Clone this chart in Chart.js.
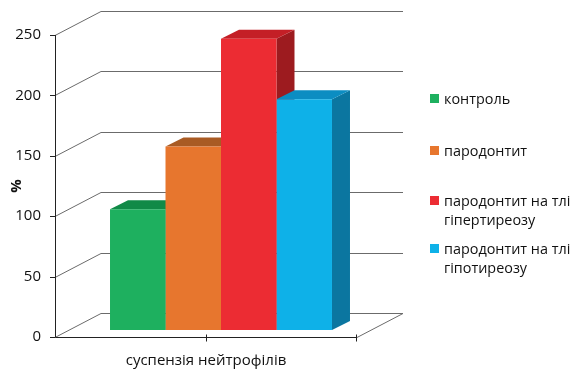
<!DOCTYPE html>
<html>
<head>
<meta charset="utf-8">
<script src="https://cdn.jsdelivr.net/npm/chart.js@4/dist/chart.umd.min.js"></script>
<style>
  html, body { margin: 0; padding: 0; background: #fff; }
  #wrap { position: relative; width: 573px; height: 369px; overflow: hidden; }
  #chart { position: absolute; left: 0; top: 0; }
  .legend { position: absolute; left: 430px; font-family: "Open Sans", sans-serif; font-size: 14.4px; color: #111; line-height: 19px; }
  .legend .sw { position: absolute; left: 0; top: 5px; width: 9px; height: 9px; }
  .legend .tx { position: absolute; left: 14px; top: 0; white-space: nowrap; }
</style>
</head>
<body>
<div id="wrap">
  <canvas id="chart" width="573" height="369"></canvas>
</div>
<script>
// Categories, series and axis ticks
const categories = ["суспензія нейтрофілів"];
const seriesNames = [
  ["контроль"],
  ["пародонтит"],
  ["пародонтит на тлі", "гіпертиреозу"],
  ["пародонтит на тлі", "гіпотиреозу"]
];
const controlValues = [100];
const periodontitisValues = [152];
const hyperthyroidValues = [241];
const hypothyroidValues = [191];
const yTicks = [0, 50, 100, 150, 200, 250];

// Face colours: front, top, side
const frontColors = ["#1eb05f", "#e7762e", "#ec2c33", "#0eb1e8"];
const topColors   = ["#118a47", "#a95b24", "#c41f26", "#0c8dc2"];
const sideColors  = ["#0e7a3e", "#9a4f1d", "#9d1b1f", "#0b76a0"];

// Legend rows (first-line top offsets)
const legendTops = [89, 141, 191, 239];

const wrap = document.getElementById('wrap');
seriesNames.forEach((lines, i) => {
  const d = document.createElement('div');
  d.className = 'legend';
  d.style.top = legendTops[i] + 'px';
  const sw = document.createElement('div');
  sw.className = 'sw';
  sw.style.background = frontColors[i];
  const tx = document.createElement('div');
  tx.className = 'tx';
  tx.innerHTML = lines.join('<br>');
  d.appendChild(sw);
  d.appendChild(tx);
  wrap.appendChild(d);
});

// Depth offsets for the bars' plane and the back wall
const BAR_DX = 15, BAR_DY = -7;
const WALL_DX = 46, WALL_DY = -24;
const BAR_DEPTH_X = 18, BAR_DEPTH_Y = -9;

const frame3d = {
  id: 'frame3d',
  beforeDatasetsDraw(chart) {
    const ctx = chart.ctx;
    const xs = chart.scales.x, ys = chart.scales.y;
    const left = xs.left, right = xs.right;
    const y0 = ys.getPixelForValue(0);
    ctx.save();
    ctx.lineWidth = 1;
    // back wall grid and diagonals
    yTicks.forEach(v => {
      const y = Math.round(ys.getPixelForValue(v)) + 0.5;
      ctx.strokeStyle = '#6b6b6b';
      ctx.beginPath();
      ctx.moveTo(left, y);
      ctx.lineTo(left + WALL_DX, y + WALL_DY);
      ctx.lineTo(right + WALL_DX, y + WALL_DY);
      ctx.stroke();
      // tick mark
      ctx.strokeStyle = '#222';
      ctx.beginPath();
      ctx.moveTo(left - 5, y);
      ctx.lineTo(left, y);
      ctx.stroke();
    });
    const yb = Math.round(y0) + 0.5;
    // floor right diagonal
    ctx.strokeStyle = '#6b6b6b';
    ctx.beginPath();
    ctx.moveTo(right, yb);
    ctx.lineTo(right + WALL_DX, yb + WALL_DY);
    ctx.stroke();
    // front axes
    ctx.strokeStyle = '#222';
    ctx.beginPath();
    ctx.moveTo(Math.round(left) + 0.5, Math.round(ys.getPixelForValue(250)));
    ctx.lineTo(Math.round(left) + 0.5, yb);
    ctx.lineTo(right, yb);
    ctx.stroke();
    // category ticks
    const xc = Math.round(xs.getPixelForValue(0)) + 0.5;
    [xc, Math.round(right) - 0.5].forEach(x => {
      ctx.beginPath();
      ctx.moveTo(x, yb - 3);
      ctx.lineTo(x, yb + 4);
      ctx.stroke();
    });
    ctx.restore();

    // bars' plane: sides and tops, then fronts by Chart.js
    ctx.save();
    ctx.translate(BAR_DX, BAR_DY);
    chart.data.datasets.forEach((ds, i) => {
      const meta = chart.getDatasetMeta(i);
      meta.data.forEach(bar => {
        const p = bar.getProps(['x', 'y', 'base', 'width'], true);
        const l = p.x - p.width / 2, r = p.x + p.width / 2;
        // side
        ctx.fillStyle = sideColors[i];
        ctx.beginPath();
        ctx.moveTo(r, p.y);
        ctx.lineTo(r + BAR_DEPTH_X, p.y + BAR_DEPTH_Y);
        ctx.lineTo(r + BAR_DEPTH_X, p.base + BAR_DEPTH_Y);
        ctx.lineTo(r, p.base);
        ctx.closePath();
        ctx.fill();
        // top
        ctx.fillStyle = topColors[i];
        ctx.beginPath();
        ctx.moveTo(l, p.y);
        ctx.lineTo(l + BAR_DEPTH_X, p.y + BAR_DEPTH_Y);
        ctx.lineTo(r + BAR_DEPTH_X, p.y + BAR_DEPTH_Y);
        ctx.lineTo(r, p.y);
        ctx.closePath();
        ctx.fill();
      });
    });
  },
  afterDatasetsDraw(chart) {
    chart.ctx.restore();
  }
};

new Chart(document.getElementById('chart'), {
  type: 'bar',
  data: {
    labels: categories,
    datasets: [
      { label: seriesNames[0].join(' '), data: controlValues, backgroundColor: frontColors[0] },
      { label: seriesNames[1].join(' '), data: periodontitisValues, backgroundColor: frontColors[1] },
      { label: seriesNames[2].join(' '), data: hyperthyroidValues, backgroundColor: frontColors[2] },
      { label: seriesNames[3].join(' '), data: hypothyroidValues, backgroundColor: frontColors[3] }
    ]
  },
  options: {
    responsive: false,
    animation: false,
    events: [],
    categoryPercentage: 0.735,
    barPercentage: 1,
    clip: false,
    layout: { padding: { top: 35, right: 216, bottom: 0, left: 0 } },
    plugins: { legend: { display: false }, tooltip: { enabled: false } },
    scales: {
      x: {
        grid: { display: false, drawTicks: false },
        border: { display: false },
        ticks: { color: '#111', padding: 15, font: { family: 'Open Sans', size: 15 } },
        afterFit(s) { s.height = 32; }
      },
      y: {
        min: 0, max: 250,
        afterBuildTicks(s) { s.ticks = yTicks.map(v => ({ value: v })); },
        grid: { display: false, drawTicks: false },
        border: { display: false },
        ticks: { color: '#111', padding: 14, font: { family: 'Open Sans', size: 15 } },
        title: { display: true, text: '%', color: '#111', padding: { top: 8, bottom: 0 }, font: { family: 'Open Sans', size: 15, weight: 'bold' } },
        afterFit(s) { s.width = 55; }
      }
    }
  },
  plugins: [frame3d]
});
</script>
</body>
</html>
